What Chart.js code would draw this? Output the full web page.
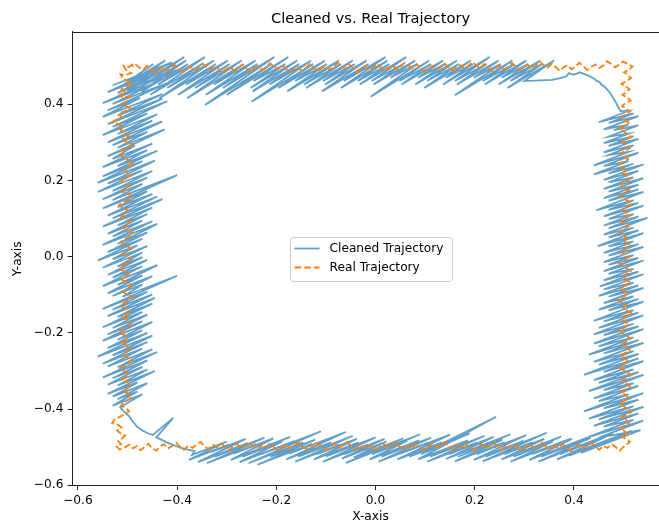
<!DOCTYPE html>
<html>
<head>
<meta charset="utf-8">
<script src="https://cdn.jsdelivr.net/npm/chart.js@4.4.1/dist/chart.umd.min.js"></script>
<style>
  html, body { margin: 0; padding: 0; overflow: hidden; background: #fff; }
  #wrap { width: 659px; height: 522px; overflow: hidden; }
</style>
</head>
<body>
<div id="wrap"><canvas id="traj" width="669" height="522"></canvas></div>
<script>
// tick labels
const xTicks = [-0.6, -0.4, -0.2, 0.0, 0.2, 0.4];
const yTicks = [-0.6, -0.4, -0.2, 0.0, 0.2, 0.4];

// Real trajectory, read edge by edge (x, y)
const realLeft = [[-0.489,0.506],[-0.497,0.498],[-0.508,0.501],[-0.502,0.489],[-0.493,0.482],[-0.506,0.476],[-0.514,0.479],[-0.509,0.466],[-0.497,0.461],[-0.491,0.452],[-0.503,0.447],[-0.512,0.440],[-0.505,0.431],[-0.516,0.425],[-0.508,0.417],[-0.496,0.421],[-0.501,0.409],[-0.511,0.402],[-0.503,0.394],[-0.494,0.389],[-0.507,0.381],[-0.519,0.376],[-0.512,0.366],[-0.522,0.360],[-0.531,0.352],[-0.518,0.348],[-0.509,0.341],[-0.514,0.331],[-0.502,0.326],[-0.497,0.316],[-0.509,0.310],[-0.503,0.301],[-0.491,0.296],[-0.499,0.287],[-0.511,0.283],[-0.506,0.272],[-0.515,0.266],[-0.504,0.259],[-0.496,0.251],[-0.488,0.244],[-0.497,0.236],[-0.507,0.231],[-0.501,0.221],[-0.492,0.214],[-0.504,0.208],[-0.513,0.201],[-0.507,0.192],[-0.496,0.187],[-0.503,0.178],[-0.511,0.171],[-0.499,0.166],[-0.490,0.158],[-0.497,0.149],[-0.508,0.143],[-0.517,0.136],[-0.509,0.127],[-0.499,0.121],[-0.505,0.112],[-0.513,0.104],[-0.502,0.098],[-0.493,0.091],[-0.501,0.082],[-0.509,0.076],[-0.498,0.068],[-0.489,0.062],[-0.496,0.053],[-0.505,0.047],[-0.513,0.039],[-0.506,0.030],[-0.495,0.024],[-0.501,0.015],[-0.510,0.008],[-0.503,-0.001],[-0.492,-0.007],[-0.499,-0.016],[-0.508,-0.022],[-0.516,-0.030],[-0.507,-0.038],[-0.497,-0.044],[-0.504,-0.053],[-0.512,-0.060],[-0.501,-0.067],[-0.493,-0.075],[-0.500,-0.084],[-0.509,-0.090],[-0.503,-0.099],[-0.490,-0.105],[-0.497,-0.114],[-0.506,-0.120],[-0.514,-0.128],[-0.505,-0.136],[-0.496,-0.142],[-0.503,-0.151],[-0.511,-0.158],[-0.500,-0.165],[-0.492,-0.173],[-0.499,-0.181],[-0.508,-0.188],[-0.517,-0.195],[-0.510,-0.204],[-0.499,-0.210],[-0.504,-0.219],[-0.513,-0.226],[-0.502,-0.233],[-0.494,-0.241],[-0.501,-0.249],[-0.510,-0.256],[-0.503,-0.264],[-0.491,-0.270],[-0.497,-0.279],[-0.506,-0.285],[-0.515,-0.293],[-0.507,-0.301],[-0.497,-0.307],[-0.504,-0.316],[-0.511,-0.323],[-0.500,-0.330],[-0.493,-0.338],[-0.501,-0.346],[-0.509,-0.353],[-0.498,-0.360],[-0.491,-0.368],[-0.499,-0.376],[-0.508,-0.383],[-0.513,-0.391],[-0.502,-0.398],[-0.497,-0.406],[-0.506,-0.413],[-0.515,-0.420],[-0.527,-0.428],[-0.531,-0.437],[-0.519,-0.441],[-0.512,-0.449],[-0.521,-0.456],[-0.514,-0.464],[-0.505,-0.469],[-0.511,-0.477],[-0.519,-0.484],[-0.513,-0.492],[-0.522,-0.498],[-0.516,-0.506],[-0.506,-0.501]];
const realBottom = [[-0.497,-0.493],[-0.489,-0.503],[-0.481,-0.497],[-0.474,-0.508],[-0.466,-0.500],[-0.458,-0.491],[-0.451,-0.502],[-0.442,-0.509],[-0.435,-0.498],[-0.427,-0.492],[-0.418,-0.503],[-0.410,-0.497],[-0.402,-0.488],[-0.394,-0.499],[-0.386,-0.507],[-0.378,-0.496],[-0.369,-0.502],[-0.361,-0.493],[-0.353,-0.486],[-0.345,-0.497],[-0.337,-0.505],[-0.328,-0.494],[-0.320,-0.500],[-0.312,-0.490],[-0.304,-0.498],[-0.296,-0.508],[-0.288,-0.499],[-0.279,-0.491],[-0.271,-0.502],[-0.263,-0.496],[-0.255,-0.487],[-0.246,-0.498],[-0.238,-0.506],[-0.230,-0.495],[-0.222,-0.501],[-0.214,-0.491],[-0.205,-0.499],[-0.197,-0.509],[-0.189,-0.500],[-0.181,-0.492],[-0.173,-0.503],[-0.164,-0.496],[-0.156,-0.487],[-0.148,-0.497],[-0.140,-0.505],[-0.132,-0.494],[-0.123,-0.501],[-0.115,-0.491],[-0.107,-0.499],[-0.099,-0.508],[-0.090,-0.498],[-0.082,-0.490],[-0.074,-0.501],[-0.066,-0.495],[-0.058,-0.486],[-0.049,-0.497],[-0.041,-0.506],[-0.033,-0.495],[-0.025,-0.502],[-0.017,-0.492],[-0.008,-0.500],[0.000,-0.509],[0.008,-0.499],[0.016,-0.491],[0.025,-0.502],[0.033,-0.496],[0.041,-0.487],[0.049,-0.498],[0.057,-0.506],[0.066,-0.495],[0.074,-0.501],[0.082,-0.491],[0.090,-0.499],[0.098,-0.508],[0.107,-0.498],[0.115,-0.490],[0.123,-0.501],[0.131,-0.495],[0.139,-0.486],[0.148,-0.497],[0.156,-0.505],[0.164,-0.494],[0.172,-0.501],[0.180,-0.491],[0.189,-0.499],[0.197,-0.509],[0.205,-0.499],[0.213,-0.491],[0.221,-0.502],[0.230,-0.496],[0.238,-0.487],[0.246,-0.498],[0.254,-0.507],[0.262,-0.496],[0.271,-0.502],[0.279,-0.492],[0.287,-0.500],[0.295,-0.510],[0.303,-0.500],[0.312,-0.492],[0.320,-0.503],[0.328,-0.497],[0.336,-0.488],[0.344,-0.499],[0.353,-0.507],[0.361,-0.496],[0.369,-0.502],[0.377,-0.492],[0.385,-0.500],[0.394,-0.510],[0.402,-0.500],[0.410,-0.492],[0.418,-0.503],[0.426,-0.497],[0.435,-0.488],[0.443,-0.499],[0.451,-0.507],[0.459,-0.496],[0.467,-0.502],[0.476,-0.492],[0.484,-0.500],[0.492,-0.509],[0.500,-0.499],[0.508,-0.491]];
const realRight = [[0.513,-0.486],[0.505,-0.479],[0.497,-0.472],[0.508,-0.466],[0.501,-0.457],[0.492,-0.450],[0.503,-0.444],[0.511,-0.436],[0.504,-0.428],[0.496,-0.421],[0.507,-0.414],[0.516,-0.407],[0.508,-0.399],[0.499,-0.392],[0.491,-0.385],[0.502,-0.378],[0.510,-0.370],[0.503,-0.362],[0.494,-0.355],[0.505,-0.348],[0.513,-0.340],[0.506,-0.333],[0.497,-0.325],[0.504,-0.318],[0.515,-0.311],[0.507,-0.303],[0.498,-0.296],[0.490,-0.289],[0.501,-0.282],[0.509,-0.274],[0.502,-0.267],[0.493,-0.259],[0.504,-0.252],[0.512,-0.245],[0.505,-0.237],[0.496,-0.230],[0.506,-0.223],[0.514,-0.215],[0.507,-0.208],[0.498,-0.200],[0.491,-0.193],[0.502,-0.186],[0.511,-0.178],[0.503,-0.171],[0.495,-0.164],[0.505,-0.156],[0.516,-0.149],[0.508,-0.142],[0.499,-0.134],[0.506,-0.127],[0.496,-0.119],[0.489,-0.112],[0.500,-0.105],[0.509,-0.097],[0.502,-0.090],[0.493,-0.083],[0.504,-0.075],[0.513,-0.068],[0.506,-0.060],[0.497,-0.053],[0.505,-0.046],[0.514,-0.038],[0.507,-0.031],[0.498,-0.023],[0.491,-0.016],[0.502,-0.009],[0.510,-0.001],[0.503,0.006],[0.494,0.013],[0.505,0.021],[0.515,0.028],[0.508,0.035],[0.499,0.043],[0.506,0.050],[0.496,0.058],[0.490,0.065],[0.501,0.072],[0.510,0.080],[0.503,0.087],[0.494,0.094],[0.505,0.102],[0.514,0.109],[0.507,0.116],[0.498,0.124],[0.506,0.131],[0.517,0.139],[0.509,0.146],[0.500,0.153],[0.492,0.161],[0.503,0.168],[0.511,0.175],[0.504,0.183],[0.495,0.190],[0.506,0.197],[0.514,0.205],[0.507,0.212],[0.498,0.220],[0.505,0.227],[0.495,0.234],[0.489,0.242],[0.500,0.249],[0.509,0.256],[0.502,0.264],[0.493,0.271],[0.504,0.278],[0.513,0.286],[0.506,0.293],[0.497,0.300],[0.505,0.308],[0.515,0.315],[0.508,0.322],[0.499,0.330],[0.491,0.337],[0.502,0.344],[0.510,0.352],[0.503,0.359],[0.494,0.366],[0.505,0.374],[0.513,0.381],[0.506,0.388],[0.497,0.396],[0.504,0.403],[0.514,0.410],[0.507,0.418],[0.498,0.425],[0.505,0.432],[0.512,0.440],[0.504,0.447],[0.496,0.454],[0.507,0.462],[0.515,0.469],[0.509,0.477],[0.501,0.484],[0.511,0.491],[0.518,0.499],[0.509,0.506]];
const realTop = [[0.499,0.512],[0.491,0.504],[0.483,0.497],[0.475,0.506],[0.467,0.513],[0.459,0.502],[0.451,0.495],[0.443,0.505],[0.435,0.498],[0.427,0.490],[0.419,0.500],[0.411,0.509],[0.403,0.499],[0.395,0.492],[0.387,0.503],[0.379,0.497],[0.371,0.488],[0.363,0.498],[0.355,0.507],[0.347,0.496],[0.339,0.503],[0.331,0.512],[0.323,0.501],[0.315,0.494],[0.307,0.504],[0.299,0.497],[0.291,0.489],[0.283,0.499],[0.275,0.508],[0.267,0.498],[0.259,0.491],[0.251,0.502],[0.243,0.496],[0.235,0.487],[0.227,0.497],[0.219,0.506],[0.211,0.495],[0.203,0.502],[0.195,0.511],[0.187,0.500],[0.179,0.493],[0.171,0.503],[0.163,0.496],[0.155,0.488],[0.147,0.498],[0.139,0.507],[0.131,0.497],[0.123,0.490],[0.115,0.501],[0.107,0.495],[0.099,0.486],[0.091,0.496],[0.083,0.505],[0.075,0.494],[0.067,0.501],[0.059,0.510],[0.051,0.499],[0.043,0.492],[0.035,0.502],[0.027,0.496],[0.019,0.487],[0.011,0.497],[0.003,0.506],[-0.005,0.496],[-0.013,0.489],[-0.021,0.500],[-0.029,0.494],[-0.037,0.485],[-0.045,0.495],[-0.053,0.504],[-0.061,0.493],[-0.069,0.500],[-0.077,0.509],[-0.085,0.498],[-0.093,0.491],[-0.101,0.501],[-0.109,0.495],[-0.117,0.486],[-0.125,0.496],[-0.133,0.505],[-0.141,0.495],[-0.149,0.488],[-0.157,0.499],[-0.165,0.493],[-0.173,0.484],[-0.181,0.494],[-0.189,0.503],[-0.197,0.492],[-0.205,0.499],[-0.213,0.508],[-0.221,0.497],[-0.229,0.490],[-0.237,0.500],[-0.245,0.494],[-0.253,0.485],[-0.261,0.495],[-0.269,0.504],[-0.277,0.494],[-0.285,0.487],[-0.293,0.498],[-0.301,0.492],[-0.309,0.483],[-0.317,0.493],[-0.325,0.502],[-0.333,0.491],[-0.341,0.498],[-0.349,0.507],[-0.357,0.496],[-0.365,0.489],[-0.373,0.499],[-0.381,0.493],[-0.389,0.484],[-0.397,0.494],[-0.405,0.503],[-0.413,0.493],[-0.421,0.486],[-0.429,0.497],[-0.437,0.491],[-0.445,0.482],[-0.453,0.492],[-0.461,0.501],[-0.469,0.490],[-0.477,0.497],[-0.485,0.506],[-0.490,0.499]];

// Cleaned trajectory: back-and-forth needles, edge by edge (x, y)
const cleanLeft = [[-0.530,0.450],[-0.410,0.510],[-0.540,0.432],[-0.440,0.482],[-0.520,0.430],[-0.400,0.490],[-0.550,0.403],[-0.450,0.453],[-0.530,0.401],[-0.420,0.456],[-0.540,0.384],[-0.475,0.417],[-0.550,0.367],[-0.430,0.427],[-0.520,0.370],[-0.430,0.415],[-0.540,0.348],[-0.420,0.408],[-0.530,0.341],[-0.460,0.376],[-0.550,0.319],[-0.440,0.374],[-0.520,0.322],[-0.450,0.357],[-0.540,0.300],[-0.430,0.355],[-0.530,0.293],[-0.460,0.328],[-0.520,0.286],[-0.425,0.334],[-0.540,0.264],[-0.485,0.292],[-0.530,0.257],[-0.450,0.297],[-0.550,0.235],[-0.460,0.280],[-0.520,0.238],[-0.440,0.278],[-0.550,0.211],[-0.470,0.251],[-0.560,0.194],[-0.445,0.252],[-0.540,0.192],[-0.470,0.227],[-0.560,0.170],[-0.450,0.225],[-0.530,0.173],[-0.460,0.208],[-0.550,0.151],[-0.470,0.191],[-0.530,0.149],[-0.400,0.214],[-0.550,0.127],[-0.460,0.172],[-0.520,0.130],[-0.450,0.165],[-0.540,0.108],[-0.440,0.158],[-0.530,0.101],[-0.430,0.151],[-0.550,0.079],[-0.450,0.129],[-0.520,0.082],[-0.460,0.112],[-0.540,0.060],[-0.470,0.095],[-0.530,0.053],[-0.450,0.093],[-0.550,0.031],[-0.440,0.086],[-0.520,0.034],[-0.460,0.064],[-0.540,0.012],[-0.470,0.047],[-0.560,-0.010],[-0.480,0.030],[-0.530,-0.007],[-0.460,0.028],[-0.550,-0.029],[-0.470,0.011],[-0.520,-0.026],[-0.470,-0.001],[-0.540,-0.048],[-0.460,-0.008],[-0.530,-0.055],[-0.470,-0.025],[-0.550,-0.077],[-0.440,-0.022],[-0.520,-0.074],[-0.470,-0.049],[-0.540,-0.096],[-0.450,-0.051],[-0.530,-0.103],[-0.470,-0.073],[-0.510,-0.105],[-0.400,-0.050],[-0.550,-0.137],[-0.460,-0.092],[-0.530,-0.139],[-0.450,-0.099],[-0.540,-0.156],[-0.445,-0.108],[-0.520,-0.158],[-0.450,-0.123],[-0.550,-0.185],[-0.470,-0.145],[-0.530,-0.187],[-0.460,-0.152],[-0.540,-0.204],[-0.470,-0.169],[-0.550,-0.221],[-0.450,-0.171],[-0.520,-0.218],[-0.470,-0.193],[-0.540,-0.240],[-0.460,-0.200],[-0.560,-0.262],[-0.450,-0.207],[-0.530,-0.259],[-0.460,-0.224],[-0.550,-0.281],[-0.470,-0.241],[-0.540,-0.288],[-0.450,-0.243],[-0.520,-0.290],[-0.440,-0.250],[-0.550,-0.317],[-0.460,-0.272],[-0.530,-0.319],[-0.470,-0.289],[-0.540,-0.336],[-0.460,-0.296],[-0.520,-0.338],[-0.445,-0.300],[-0.540,-0.360],[-0.480,-0.330],[-0.530,-0.367],[-0.460,-0.332],[-0.520,-0.374],[-0.480,-0.354],[-0.530,-0.391],[-0.470,-0.361],[-0.515,-0.395],[-0.505,-0.410],[-0.497,-0.418],[-0.490,-0.432],[-0.481,-0.446],[-0.470,-0.456],[-0.458,-0.464],[-0.449,-0.468],[-0.408,-0.423],[-0.442,-0.474],[-0.432,-0.480],[-0.420,-0.488],[-0.406,-0.495],[-0.392,-0.502],[-0.378,-0.506],[-0.365,-0.510]];
const cleanBottom = [[-0.370,-0.520],[-0.300,-0.485],[-0.376,-0.533],[-0.296,-0.493],[-0.332,-0.513],[-0.262,-0.478],[-0.358,-0.539],[-0.258,-0.489],[-0.324,-0.525],[-0.224,-0.475],[-0.340,-0.542],[-0.240,-0.492],[-0.286,-0.517],[-0.206,-0.477],[-0.292,-0.533],[-0.172,-0.473],[-0.268,-0.525],[-0.188,-0.485],[-0.274,-0.539],[-0.164,-0.484],[-0.230,-0.518],[-0.110,-0.458],[-0.256,-0.542],[-0.146,-0.487],[-0.212,-0.525],[-0.122,-0.480],[-0.238,-0.546],[-0.128,-0.491],[-0.174,-0.517],[-0.060,-0.460],[-0.180,-0.532],[-0.090,-0.487],[-0.156,-0.525],[-0.046,-0.470],[-0.162,-0.538],[-0.072,-0.493],[-0.118,-0.518],[-0.038,-0.478],[-0.124,-0.532],[-0.034,-0.487],[-0.100,-0.524],[0.000,-0.474],[-0.106,-0.538],[-0.016,-0.493],[-0.062,-0.518],[0.018,-0.478],[-0.068,-0.530],[0.022,-0.485],[-0.044,-0.527],[0.056,-0.477],[-0.060,-0.541],[0.090,-0.466],[-0.006,-0.518],[0.064,-0.483],[-0.012,-0.532],[0.088,-0.482],[0.012,-0.525],[0.112,-0.475],[0.006,-0.538],[0.106,-0.488],[0.050,-0.517],[0.150,-0.467],[0.044,-0.532],[0.134,-0.487],[0.068,-0.525],[0.190,-0.464],[0.092,-0.518],[0.243,-0.420],[0.086,-0.532],[0.186,-0.482],[0.110,-0.525],[0.220,-0.470],[0.104,-0.538],[0.204,-0.488],[0.148,-0.518],[0.238,-0.473],[0.142,-0.531],[0.272,-0.466],[0.166,-0.525],[0.256,-0.480],[0.160,-0.537],[0.260,-0.487],[0.204,-0.518],[0.304,-0.468],[0.198,-0.533],[0.298,-0.483],[0.222,-0.525],[0.345,-0.462],[0.216,-0.537],[0.316,-0.487],[0.260,-0.518],[0.340,-0.478],[0.254,-0.532],[0.374,-0.472],[0.278,-0.525],[0.358,-0.485],[0.272,-0.538],[0.392,-0.478],[0.316,-0.518],[0.396,-0.478],[0.310,-0.533],[0.440,-0.468],[0.334,-0.525],[0.434,-0.475],[0.328,-0.538],[0.478,-0.463],[0.372,-0.518],[0.472,-0.468],[0.366,-0.532],[0.516,-0.457],[0.390,-0.522],[0.510,-0.462],[0.414,-0.515],[0.534,-0.455]];
const cleanRight = [[0.450,-0.475],[0.540,-0.430],[0.430,-0.473],[0.520,-0.428],[0.460,-0.446],[0.530,-0.411],[0.440,-0.444],[0.540,-0.394],[0.450,-0.427],[0.520,-0.392],[0.430,-0.425],[0.530,-0.375],[0.460,-0.398],[0.540,-0.358],[0.420,-0.406],[0.510,-0.361],[0.450,-0.379],[0.530,-0.339],[0.440,-0.372],[0.520,-0.332],[0.460,-0.350],[0.540,-0.310],[0.430,-0.353],[0.530,-0.303],[0.450,-0.331],[0.520,-0.296],[0.440,-0.324],[0.540,-0.274],[0.460,-0.302],[0.530,-0.267],[0.420,-0.310],[0.530,-0.255],[0.450,-0.283],[0.520,-0.248],[0.440,-0.276],[0.540,-0.226],[0.460,-0.254],[0.530,-0.219],[0.430,-0.257],[0.520,-0.212],[0.450,-0.235],[0.540,-0.190],[0.440,-0.228],[0.530,-0.183],[0.460,-0.206],[0.520,-0.176],[0.440,-0.204],[0.540,-0.154],[0.450,-0.187],[0.530,-0.147],[0.460,-0.170],[0.520,-0.140],[0.440,-0.168],[0.540,-0.118],[0.470,-0.141],[0.530,-0.111],[0.450,-0.139],[0.520,-0.104],[0.460,-0.122],[0.540,-0.082],[0.470,-0.105],[0.530,-0.075],[0.450,-0.103],[0.520,-0.068],[0.460,-0.086],[0.540,-0.046],[0.452,-0.078],[0.530,-0.039],[0.460,-0.062],[0.520,-0.032],[0.470,-0.045],[0.540,-0.010],[0.460,-0.038],[0.530,-0.003],[0.470,-0.021],[0.520,0.004],[0.460,-0.014],[0.540,0.026],[0.470,0.003],[0.530,0.033],[0.460,0.010],[0.520,0.040],[0.470,0.027],[0.540,0.062],[0.448,0.028],[0.530,0.069],[0.470,0.051],[0.520,0.076],[0.460,0.058],[0.548,0.102],[0.470,0.075],[0.530,0.105],[0.460,0.082],[0.520,0.112],[0.470,0.099],[0.540,0.134],[0.460,0.106],[0.530,0.141],[0.470,0.123],[0.520,0.148],[0.445,0.122],[0.540,0.170],[0.470,0.147],[0.530,0.177],[0.460,0.154],[0.530,0.189],[0.470,0.171],[0.540,0.206],[0.460,0.178],[0.520,0.208],[0.470,0.195],[0.530,0.225],[0.460,0.202],[0.540,0.242],[0.470,0.219],[0.520,0.244],[0.440,0.216],[0.510,0.251],[0.460,0.238],[0.530,0.273],[0.440,0.240],[0.510,0.275],[0.470,0.267],[0.520,0.292],[0.460,0.274],[0.530,0.309],[0.470,0.291],[0.520,0.316],[0.460,0.298],[0.510,0.323],[0.470,0.315],[0.530,0.345],[0.480,0.332],[0.510,0.347],[0.460,0.334],[0.530,0.369],[0.470,0.351],[0.520,0.376],[0.450,0.353],[0.510,0.383],[0.494,0.382],[0.489,0.393],[0.485,0.404],[0.481,0.412],[0.476,0.424],[0.472,0.431],[0.466,0.440],[0.462,0.446],[0.455,0.452],[0.452,0.458],[0.445,0.462],[0.440,0.468],[0.428,0.476],[0.420,0.480],[0.412,0.484],[0.405,0.480],[0.398,0.478],[0.390,0.482],[0.384,0.473],[0.370,0.468],[0.356,0.464]];
const cleanTop = [[0.300,0.461],[0.360,0.515],[0.266,0.443],[0.336,0.506],[0.272,0.461],[0.332,0.515],[0.248,0.452],[0.308,0.506],[0.254,0.470],[0.304,0.515],[0.220,0.452],[0.280,0.506],[0.216,0.461],[0.276,0.515],[0.160,0.424],[0.252,0.506],[0.198,0.470],[0.248,0.515],[0.164,0.452],[0.224,0.506],[0.160,0.461],[0.230,0.524],[0.136,0.452],[0.196,0.506],[0.142,0.470],[0.192,0.515],[0.098,0.443],[0.168,0.506],[0.104,0.461],[0.164,0.515],[0.080,0.452],[0.140,0.506],[0.086,0.470],[0.136,0.515],[0.052,0.452],[0.112,0.506],[0.048,0.461],[0.108,0.515],[-0.010,0.420],[0.084,0.506],[0.030,0.470],[0.080,0.515],[-0.004,0.452],[0.056,0.506],[-0.008,0.461],[0.062,0.524],[-0.032,0.452],[0.028,0.506],[-0.036,0.461],[0.024,0.515],[-0.070,0.443],[0.020,0.524],[-0.064,0.461],[-0.014,0.506],[-0.108,0.434],[-0.018,0.515],[-0.102,0.452],[-0.042,0.506],[-0.106,0.461],[-0.046,0.515],[-0.140,0.443],[-0.070,0.506],[-0.144,0.452],[-0.074,0.515],[-0.178,0.434],[-0.098,0.506],[-0.162,0.461],[-0.102,0.515],[-0.196,0.443],[-0.126,0.506],[-0.250,0.407],[-0.130,0.515],[-0.214,0.452],[-0.154,0.506],[-0.248,0.434],[-0.158,0.515],[-0.252,0.443],[-0.182,0.506],[-0.246,0.461],[-0.176,0.524],[-0.300,0.425],[-0.210,0.506],[-0.344,0.398],[-0.204,0.524],[-0.308,0.443],[-0.238,0.506],[-0.342,0.425],[-0.242,0.515],[-0.326,0.452],[-0.266,0.506],[-0.380,0.416],[-0.270,0.515],[-0.364,0.443],[-0.294,0.506],[-0.398,0.425],[-0.298,0.515],[-0.382,0.452],[-0.322,0.506],[-0.436,0.416],[-0.326,0.515],[-0.420,0.443],[-0.350,0.506],[-0.454,0.425],[-0.344,0.524],[-0.438,0.452],[-0.378,0.506],[-0.472,0.434],[-0.382,0.515],[-0.476,0.443],[-0.386,0.524],[-0.500,0.434],[-0.420,0.506],[-0.494,0.452],[-0.424,0.515],[-0.518,0.443],[-0.448,0.506]];

const toPoints = arr => arr.map(([x, y]) => ({ x, y }));
const cleaned = toPoints([...cleanLeft, ...cleanBottom, ...cleanRight, ...cleanTop]);
const real = toPoints([...realLeft, ...realBottom, ...realRight, ...realTop]);

const fmt = v => (v < -1e-9 ? '\u2212' : '') + Math.abs(v).toFixed(1);
const FONT = 'DejaVu Sans';

// legend box in the middle of the plot, like matplotlib's
const boxLegend = {
  id: 'boxLegend',
  afterDraw(chart) {
    const { ctx, chartArea: a } = chart;
    const w = 162, h = 44;
    const x0 = Math.round((a.left + a.right) / 2 - w / 2) + 0.5;
    const y0 = Math.round((a.top + a.bottom) / 2 - h / 2) + 0.5;
    ctx.save();
    ctx.beginPath();
    ctx.roundRect(x0, y0, w, h, 3);
    ctx.fillStyle = 'rgba(255,255,255,0.8)';
    ctx.fill();
    ctx.strokeStyle = '#cccccc';
    ctx.lineWidth = 1;
    ctx.stroke();
    ctx.font = '12.2px "' + FONT + '"';
    ctx.textBaseline = 'middle';
    chart.data.datasets.forEach((ds, i) => {
      const y = y0 + 11 + i * 19;
      ctx.beginPath();
      ctx.setLineDash(ds.borderDash || []);
      ctx.strokeStyle = ds.borderColor;
      ctx.lineWidth = ds.borderWidth;
      ctx.moveTo(x0 + 4, y);
      ctx.lineTo(x0 + 29, y);
      ctx.stroke();
      ctx.setLineDash([]);
      ctx.fillStyle = '#000';
      ctx.fillText(ds.label, x0 + 39, y);
    });
    ctx.restore();
  }
};

// top and right spines
const spines = {
  id: 'spines',
  afterDraw(chart) {
    const { ctx, chartArea: a } = chart;
    ctx.save();
    ctx.strokeStyle = '#222';
    ctx.lineWidth = 1;
    ctx.beginPath();
    ctx.moveTo(a.left, Math.round(a.top) + 0.5);
    ctx.lineTo(a.right, Math.round(a.top) + 0.5);
    ctx.lineTo(a.right, a.bottom);
    ctx.stroke();
    ctx.restore();
  }
};

new Chart(document.getElementById('traj'), {
  type: 'scatter',
  data: {
    datasets: [
      {
        label: 'Cleaned Trajectory',
        data: cleaned,
        showLine: true,
        borderColor: 'rgba(31,119,180,0.7)',
        borderWidth: 1.8,
        pointRadius: 0,
        tension: 0,
        order: 1
      },
      {
        label: 'Real Trajectory',
        data: real,
        showLine: true,
        borderColor: '#ff7f0e',
        borderWidth: 1.8,
        borderDash: [6.8, 2.9],
        pointRadius: 0,
        tension: 0,
        order: 0
      }
    ]
  },
  options: {
    responsive: false,
    animation: false,
    layout: { padding: 0 },
    plugins: {
      legend: { display: false },
      tooltip: { enabled: false },
      title: {
        display: true,
        text: 'Cleaned vs. Real Trajectory',
        fullSize: false,
        color: '#000',
        font: { family: FONT, size: 14.7, weight: 'normal', lineHeight: 1.2 },
        padding: { top: 10.1, bottom: 4.26 }
      }
    },
    scales: {
      x: {
        type: 'linear',
        min: -0.612,
        max: 0.5916,
        afterFit: s => { s.height = 36.3; },
        afterBuildTicks: s => { s.ticks = xTicks.map(v => ({ value: v })); },
        ticks: {
          callback: fmt,
          color: '#000',
          font: { family: FONT, size: 12.2 },
          padding: 3.5,
          maxRotation: 0,
          autoSkip: false
        },
        grid: { drawOnChartArea: false, drawTicks: true, tickLength: 4.3, color: '#222', lineWidth: 1 },
        border: { display: true, color: '#222', width: 1 },
        title: {
          display: true,
          text: 'X-axis',
          color: '#000',
          font: { family: FONT, size: 12.2, lineHeight: 0.9 },
          padding: { top: 0, bottom: 0 }
        }
      },
      y: {
        type: 'linear',
        min: -0.601,
        max: 0.5898,
        afterFit: s => { s.width = 72; },
        afterBuildTicks: s => { s.ticks = yTicks.map(v => ({ value: v })); },
        ticks: {
          callback: fmt,
          color: '#000',
          font: { family: FONT, size: 12.2 },
          padding: 4.3
        },
        grid: { drawOnChartArea: false, drawTicks: true, tickLength: 4.3, color: '#222', lineWidth: 1 },
        border: { display: true, color: '#222', width: 1 },
        title: {
          display: true,
          text: 'Y-axis',
          color: '#000',
          font: { family: FONT, size: 12.2, lineHeight: 0.9 },
          padding: { top: 12.2, bottom: 0 }
        }
      }
    }
  },
  plugins: [boxLegend, spines]
});
</script>
</body>
</html>
